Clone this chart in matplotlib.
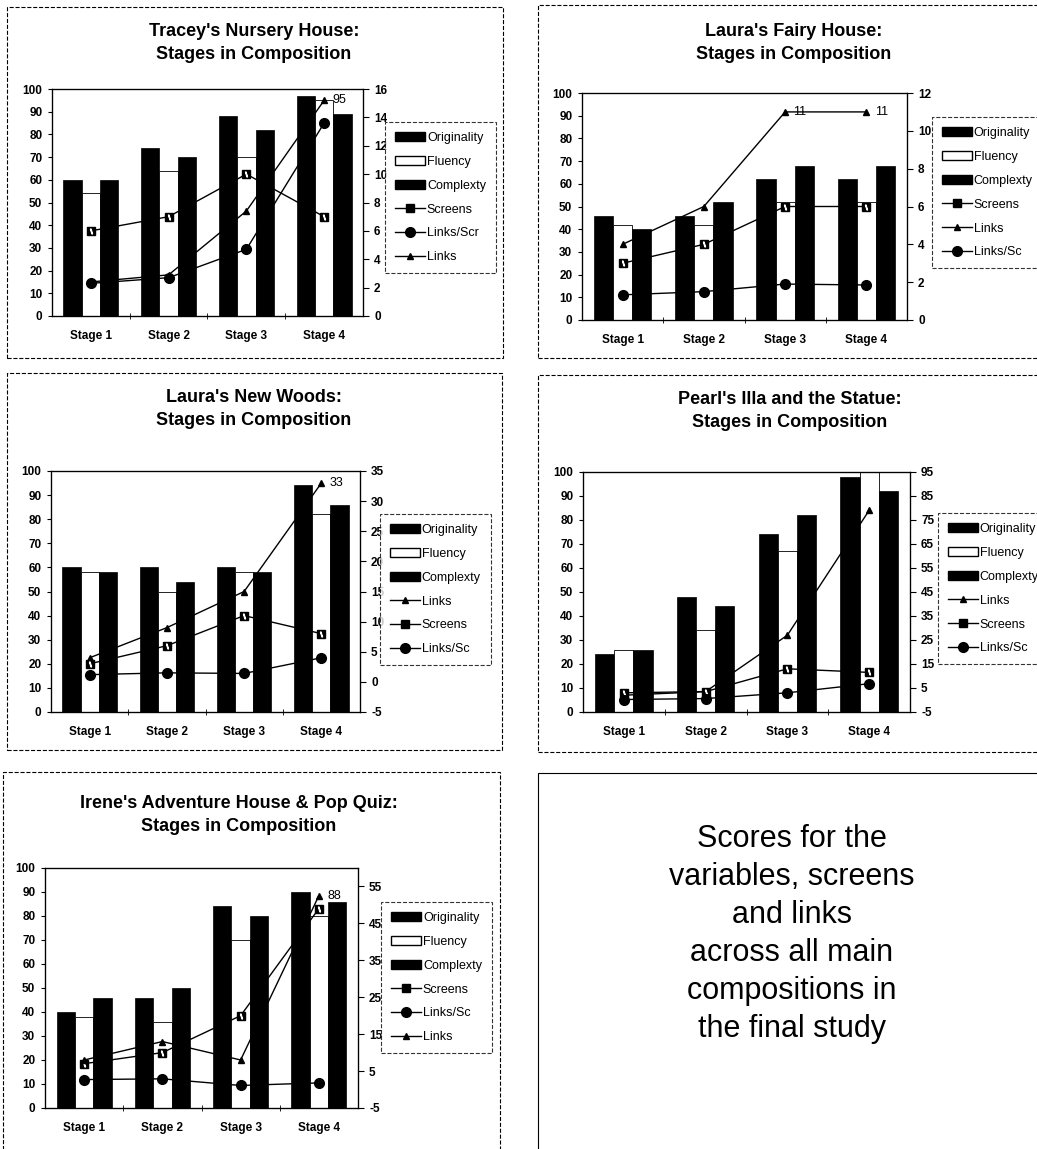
import matplotlib
matplotlib.use('Agg')
import matplotlib.pyplot as plt
import numpy as np
from matplotlib.patches import Patch, Rectangle
from matplotlib.lines import Line2D

plt.rcParams['font.family'] = ['Liberation Sans', 'DejaVu Sans']
plt.rcParams['axes.unicode_minus'] = False

W, H = 1037, 1149
stages = ['Stage 1', 'Stage 2', 'Stage 3', 'Stage 4']

# Tracey's Nursery House
tracey_orig = [60, 74, 88, 97]
tracey_flu = [54, 64, 70, 95]
tracey_comp = [60, 70, 82, 89]
tracey_screens = [6, 7, 10, 7]
tracey_lps = [2.3, 2.7, 4.7, 13.6]
tracey_links = [2.4, 2.9, 7.4, 15.2]

# Laura's Fairy House
fairy_orig = [46, 46, 62, 62]
fairy_flu = [42, 42, 52, 52]
fairy_comp = [40, 52, 68, 68]
fairy_screens = [3, 4, 6, 6]
fairy_links = [4, 6, 11, 11]
fairy_lps = [1.33, 1.5, 1.9, 1.85]

# Laura's New Woods
woods_orig = [60, 60, 60, 94]
woods_flu = [58, 50, 58, 82]
woods_comp = [58, 54, 58, 86]
woods_links = [4, 9, 15, 33]
woods_screens = [3, 6, 11, 8]
woods_lps = [1.2, 1.5, 1.4, 4]

# Pearl's Illa and the Statue
pearl_orig = [24, 48, 74, 98]
pearl_flu = [26, 34, 67, 100]
pearl_comp = [26, 44, 82, 92]
pearl_links = [2, 3.5, 27, 79]
pearl_screens = [3, 3.5, 13, 11.5]
pearl_lps = [0.2, 0.6, 3, 6.8]

# Irene's Adventure House & Pop Quiz
irene_orig = [40, 46, 84, 90]
irene_flu = [38, 36, 70, 80]
irene_comp = [46, 50, 80, 86]
irene_screens = [7, 10, 20, 49]
irene_lps = [2.7, 2.9, 1.1, 1.8]
irene_links = [8, 13, 8, 52.5]

fig = plt.figure(figsize=(W / 100, H / 100), dpi=100)


def box(x0, y0, x1, y1):
    return [x0 / W, 1 - y1 / H, (x1 - x0) / W, (y1 - y0) / H]


def frame(x0, y0, x1, y1, ls='--'):
    fig.patches.append(Rectangle((x0 / W, 1 - y1 / H), (x1 - x0) / W, (y1 - y0) / H,
                                 transform=fig.transFigure, fill=False,
                                 edgecolor='black', lw=0.8, linestyle=ls))


styles = {
    'Screens': dict(marker='s', mfc='black', mec='black', ms=6),
    'Links': dict(marker='^', mfc='black', mec='black', ms=4.5),
    'Links/Scr': dict(marker='o', mfc='black', mec='black', ms=7),
    'Links/Sc': dict(marker='o', mfc='black', mec='black', ms=7),
}


def panel(axpx, legpx, title, tpos, orig, flu, comp, series, rlim, rticks, labels):
    ax = fig.add_axes(box(*axpx))
    x = np.arange(4)
    w = 0.235
    ax.bar(x - w, orig, w, color='black', edgecolor='black', lw=0.5)
    ax.bar(x, flu, w, color='white', edgecolor='black', lw=0.6)
    ax.bar(x + w, comp, w, color='black', edgecolor='black', lw=0.5)
    ax.set_xlim(-0.5, 3.5)
    ax.set_ylim(0, 100)
    ax.set_yticks(range(0, 101, 10))
    ax.set_xticks(x)
    ax.set_xticklabels(stages, fontsize=8.5, fontweight='bold')
    ax.set_xticks([0.5, 1.5, 2.5], minor=True)
    ax.tick_params(axis='x', which='major', length=0, pad=10)
    ax.tick_params(axis='x', which='minor', length=4, direction='inout')
    ax.tick_params(axis='y', length=3, labelsize=8.5, pad=4)
    for t in ax.get_yticklabels():
        t.set_fontweight('bold')
    for s in ax.spines.values():
        s.set_linewidth(0.9)

    ax2 = ax.twinx()
    handles = [Patch(facecolor='black', edgecolor='black'),
               Patch(facecolor='white', edgecolor='black'),
               Patch(facecolor='black', edgecolor='black')]
    names = ['Originality', 'Fluency', 'Complexty']
    for name, vals in series:
        st = styles[name]
        ax2.plot(x, vals, color='black', lw=1.0, **st)
        if name == 'Screens':
            ax2.plot(x, vals, ls='none', marker=r'$\backslash$', color='white', ms=3.5)
        handles.append(Line2D([], [], color='black', lw=1.0, **st))
        names.append(name)
    ax2.set_ylim(*rlim)
    ax2.set_yticks(rticks)
    ax2.tick_params(axis='y', length=4, labelsize=8.5, pad=4)
    for t in ax2.get_yticklabels():
        t.set_fontweight('bold')
    for name, i, txt in labels:
        vals = dict(series)[name]
        ax2.annotate(txt, (i, vals[i]), xytext=(6, 0), textcoords='offset points',
                     fontsize=9, va='center')

    x0, y0, x1, y1 = legpx
    leg = fig.legend(handles, names, loc='upper left',
                     bbox_to_anchor=(x0 / W, 1 - y0 / H), fontsize=9,
                     frameon=True, fancybox=False, handlelength=2.4,
                     handletextpad=0.15, labelspacing=0.95, borderpad=0.8,
                     borderaxespad=0)
    leg.get_frame().set_edgecolor('black')
    leg.get_frame().set_linestyle('--')
    leg.get_frame().set_linewidth(0.8)

    fig.text(tpos[0] / W, 1 - tpos[1] / H, title, ha='center', va='center',
             fontsize=13, fontweight='bold', linespacing=1.4)


frame(7, 7, 503, 358)
frame(538, 5, 1045, 358)
frame(7, 373, 502, 750)
frame(538, 375, 1045, 752)
frame(3, 772, 500, 1155)
frame(538, 773, 1045, 1155, ls='-')

panel((52, 89, 363, 316), (385, 122, 500, 278),
      "Tracey's Nursery House:\nStages in Composition", (254, 43),
      tracey_orig, tracey_flu, tracey_comp,
      [('Screens', tracey_screens), ('Links/Scr', tracey_lps), ('Links', tracey_links)],
      (0, 16), range(0, 17, 2), [('Links', 3, '95')])

panel((582, 93, 907, 320), (932, 117, 1037, 276),
      "Laura's Fairy House:\nStages in Composition", (794, 43),
      fairy_orig, fairy_flu, fairy_comp,
      [('Screens', fairy_screens), ('Links', fairy_links), ('Links/Sc', fairy_lps)],
      (0, 12), range(0, 13, 2), [('Links', 2, '11'), ('Links', 3, '11')])

panel((51, 471, 360, 712), (380, 514, 500, 670),
      "Laura's New Woods:\nStages in Composition", (254, 409),
      woods_orig, woods_flu, woods_comp,
      [('Links', woods_links), ('Screens', woods_screens), ('Links/Sc', woods_lps)],
      (-5, 35), range(-5, 36, 5), [('Links', 3, '33')])

panel((583, 472, 910, 712), (938, 513, 1037, 678),
      "Pearl's Illa and the Statue:\nStages in Composition", (790, 411),
      pearl_orig, pearl_flu, pearl_comp,
      [('Links', pearl_links), ('Screens', pearl_screens), ('Links/Sc', pearl_lps)],
      (-5, 95), range(-5, 96, 10), [])

panel((45, 868, 358, 1108), (381, 902, 498, 1053),
      "Irene's Adventure House & Pop Quiz:\nStages in Composition", (239, 815),
      irene_orig, irene_flu, irene_comp,
      [('Screens', irene_screens), ('Links/Sc', irene_lps), ('Links', irene_links)],
      (-5, 60), range(-5, 56, 10), [('Links', 3, '88')])

fig.text(792 / W, 1 - 934 / H,
         'Scores for the\nvariables, screens\nand links\nacross all main\ncompositions in\nthe final study',
         ha='center', va='center', fontsize=22, linespacing=1.35)

fig.savefig('out.png', dpi=100)
